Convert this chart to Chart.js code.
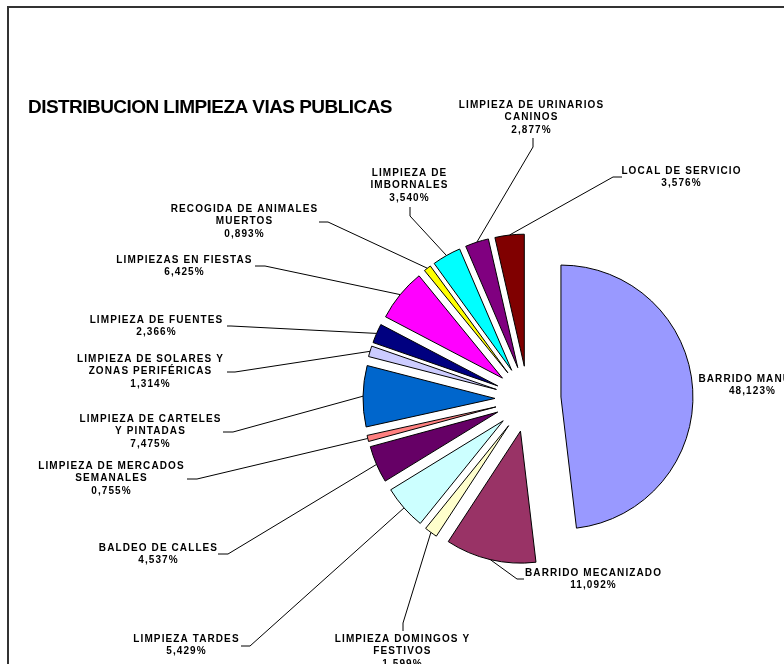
<!DOCTYPE html>
<html>
<head>
<meta charset="utf-8">
<script src="https://cdn.jsdelivr.net/npm/chart.js@4.4.0/dist/chart.umd.min.js"></script>
<style>
  html, body { margin: 0; padding: 0; background: #fff; overflow: hidden; }
  #wrap { position: relative; width: 784px; height: 664px; overflow: hidden; }
  #frame { position: absolute; left: 7px; top: 6px; width: 800px; height: 700px;
           border-left: 2px solid #333; border-top: 2px solid #333; }
  canvas { position: absolute; left: 0; top: 0; }
</style>
</head>
<body>
<div id="wrap">
  <div id="frame"></div>
  <canvas id="pie" width="784" height="664"></canvas>
</div>
<script>
const TITLE = 'DISTRIBUCION LIMPIEZA VIAS PUBLICAS';

// categories in drawing order (clockwise from 12 o'clock), '\n' = line break
const categories = [
    'BARRIDO MANUAL',
    'BARRIDO MECANIZADO',
    'LIMPIEZA DOMINGOS Y\nFESTIVOS',
    'LIMPIEZA TARDES',
    'BALDEO DE CALLES',
    'LIMPIEZA DE MERCADOS\nSEMANALES',
    'LIMPIEZA DE CARTELES\nY PINTADAS',
    'LIMPIEZA DE SOLARES Y\nZONAS PERIFÉRICAS',
    'LIMPIEZA DE FUENTES',
    'LIMPIEZAS EN FIESTAS',
    'RECOGIDA DE ANIMALES\nMUERTOS',
    'LIMPIEZA DE\nIMBORNALES',
    'LIMPIEZA DE URINARIOS\nCANINOS',
    'LOCAL DE SERVICIO'
];
const values = [48.123, 11.092, 1.599, 5.429, 4.537, 0.755, 7.475, 1.314, 2.366, 6.425, 0.893, 3.540, 2.877, 3.576];
const colors = [
    '#9999FF', '#993366', '#FFFFCC', '#CCFFFF', '#660066', '#FF8080', '#0066CC',
    '#CCCCFF', '#000080', '#FF00FF', '#FFFF00', '#00FFFF', '#800080', '#800000'
];

// where each label sits: text centre x, first line y, leader elbow and end (null = no leader)
const labelLayout = [
    { x: 752, y: 379, elbow: null, end: null },
    { x: 593, y: 573, elbow: [517, 579], end: [524, 579] },
    { x: 402, y: 639, elbow: [403, 623], end: [403, 631] },
    { x: 186, y: 639, elbow: [250, 646], end: [241, 646] },
    { x: 158, y: 548, elbow: [228, 554], end: [218, 554] },
    { x: 111, y: 466, elbow: [197, 479], end: [187, 479] },
    { x: 150, y: 419, elbow: [233, 432], end: [223, 432] },
    { x: 150, y: 359, elbow: [235, 372], end: [227, 372] },
    { x: 156, y: 320, elbow: [231, 326], end: [227, 326] },
    { x: 184, y: 260, elbow: [265, 266], end: [255, 266] },
    { x: 244, y: 209, elbow: [328, 222], end: [319, 222] },
    { x: 409, y: 173, elbow: [410, 216], end: [410, 207] },
    { x: 531, y: 105, elbow: [533, 147], end: [533, 138] },
    { x: 681, y: 171, elbow: [613, 177], end: [622, 177] }
];

const EXPLODE = 33;      // every slice pulled out from the centre
const LINE_H = 12.7;

function pctText(v) {
    return v.toFixed(3).replace('.', ',') + '%';
}

// push every arc out along its mid angle (keeps the radius untouched)
const explodePlugin = {
    id: 'explode',
    afterDatasetUpdate(chart, args) {
        args.meta.data.forEach(arc => {
            const mid = (arc.startAngle + arc.endAngle) / 2;
            arc.x += Math.cos(mid) * EXPLODE;
            arc.y += Math.sin(mid) * EXPLODE;
        });
    }
};

const labelsPlugin = {
    id: 'pieLabels',
    afterDatasetsDraw(chart) {
        const ctx = chart.ctx;
        const arcs = chart.getDatasetMeta(0).data;
        ctx.save();
        ctx.strokeStyle = '#000';
        ctx.lineWidth = 1;
        ctx.fillStyle = '#000';
        ctx.font = 'bold 10px "Liberation Sans", Arial, sans-serif';
        ctx.letterSpacing = '1.1px';
        ctx.textAlign = 'center';
        ctx.textBaseline = 'middle';

        arcs.forEach((arc, i) => {
            const lay = labelLayout[i];
            if (lay.elbow) {
                const mid = (arc.startAngle + arc.endAngle) / 2;
                const ax = arc.x + Math.cos(mid) * arc.outerRadius;
                const ay = arc.y + Math.sin(mid) * arc.outerRadius;
                ctx.beginPath();
                ctx.moveTo(ax, ay);
                ctx.lineTo(lay.elbow[0], lay.elbow[1]);
                ctx.lineTo(lay.end[0], lay.end[1]);
                ctx.stroke();
            }
            const lines = categories[i].split('\n').concat(pctText(values[i]));
            lines.forEach((t, k) => {
                ctx.fillText(t, lay.x + 0.5, lay.y + k * LINE_H);
            });
        });

        // title
        ctx.letterSpacing = '-0.55px';
        ctx.font = 'bold 19px "Liberation Sans", Arial, sans-serif';
        ctx.textAlign = 'left';
        ctx.fillText(TITLE, 28, 108);
        ctx.restore();
    }
};

new Chart(document.getElementById('pie'), {
    type: 'pie',
    data: {
        labels: categories,
        datasets: [{
            data: values,
            backgroundColor: colors,
            borderColor: '#000',
            borderWidth: 1,
            borderJoinStyle: 'miter',
            clip: false
        }]
    },
    options: {
        responsive: false,
        animation: false,
        events: [],
        radius: 132,
        layout: { padding: { left: 272, right: 0, top: 134, bottom: 0 } },
        plugins: {
            legend: { display: false },
            tooltip: { enabled: false },
            title: { display: false }
        }
    },
    plugins: [explodePlugin, labelsPlugin]
});
</script>
</body>
</html>
